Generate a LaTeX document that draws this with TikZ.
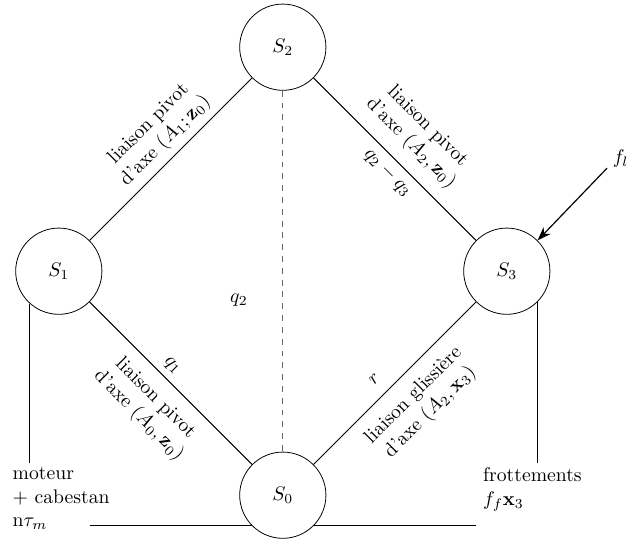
\documentclass[tikz,border=0pt]{standalone}
\usepackage{amsmath}
\usetikzlibrary{positioning,calc,arrows.meta}
\tikzset{
  solid node/.style={
    circle, draw, fill=white, minimum size=1.54cm, inner sep=0pt,
  },
  liaison label/.style={
    sloped, align=center, font=\normalsize,
  },
  force arrow/.style={
    -{Stealth[length=7pt, width=5pt]},
    line width=0.6pt,
  },
}

\begin{document}
\begin{tikzpicture}
\useasboundingbox (0,0) rectangle (11.232,9.643);

% Centre of the diamond
\def\cX{5.05}
\def\cY{4.80}
\def\dd{4}

% Ground line (drawn first, hidden behind S0)
\coordinate (gndL) at (1.607, 0.268);
\coordinate (gndR) at (8.500, 0.268);
\draw[line width=0.5pt] (gndL) -- (gndR);

% Solids
\node[solid node] (S0) at (\cX, \cY - \dd) {$S_0$};
\node[solid node] (S1) at (\cX - \dd, \cY) {$S_1$};
\node[solid node] (S2) at (\cX, \cY + \dd) {$S_2$};
\node[solid node] (S3) at (\cX + \dd, \cY) {$S_3$};

% Joints
\draw[line width=0.5pt] (S1) -- (S2)
  node[liaison label, pos=0.54, above] {liaison pivot\\d'axe $(A_1;\mathbf{z}_0)$};
\draw[line width=0.5pt] (S2) -- (S3)
  node[liaison label, pos=0.5, above=3pt] {liaison pivot\\d'axe $(A_2,\mathbf{z}_0)$}
  node[liaison label, pos=0.52, below] {$q_2-q_3$};
\draw[line width=0.5pt] (S1) -- (S0)
  node[liaison label, pos=0.45, above] {$q_1$}
  node[liaison label, pos=0.5, below=3pt] {liaison pivot\\d'axe $(A_0,\mathbf{z}_0)$};
\draw[line width=0.5pt] (S0) -- (S3)
  node[liaison label, pos=0.45, above=3pt] {$r$}
  node[liaison label, pos=0.52, below=3pt] {liaison glissi\`ere\\d'axe $(A_2,\mathbf{x}_3)$};

% Closure between S2 and S0
\draw[black!60, dashed, line width=0.5pt] (S2) -- (S0)
  node[pos=0.58, left=0.5cm, text=black] {$q_2$};

% Actuator and friction
\node[anchor=north west, align=left, inner sep=2pt] (moteur) at (0.15, 1.37)
  {moteur\\+ cabestan\\n$\tau_m$};
\node[anchor=north west, align=left, inner sep=2pt] (frott) at (8.55, 1.37)
  {frottements\\$f_f\mathbf{x}_3$};
\draw[line width=0.5pt] (S1.228) -- (S1.228 |- moteur.north);
\draw[line width=0.5pt] (S3.314) -- (S3.314 |- frott.north);

% External force
\coordinate (flTail) at (10.84, 6.64);
\draw[force arrow] (flTail) -- (S3.45);
\node[anchor=south west, inner sep=1pt] (fl) at (10.90, 6.62) {$f_l$};

\end{tikzpicture}
\end{document}
